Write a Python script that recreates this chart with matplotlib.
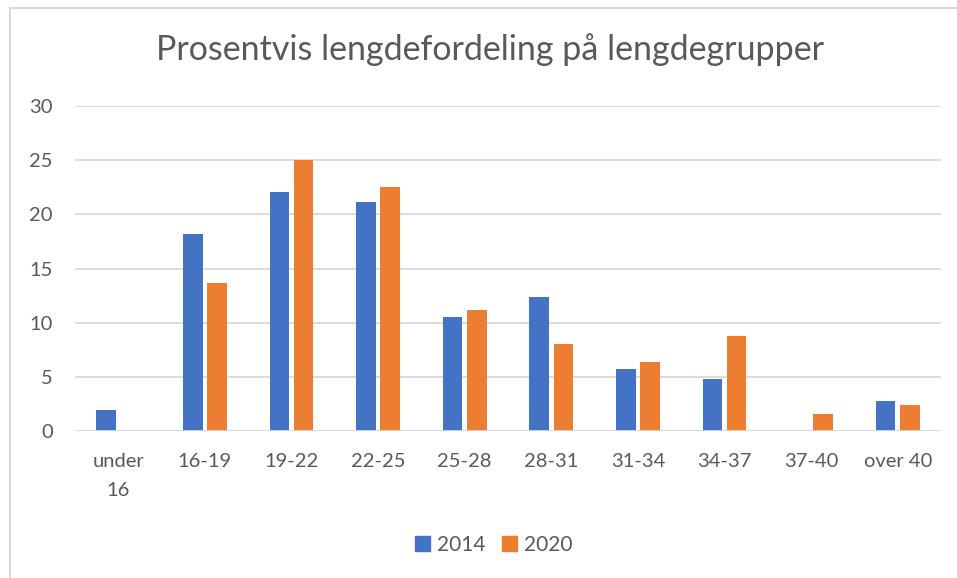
import numpy as np
from matplotlib import pyplot as plt
from matplotlib.lines import Line2D

# Data
categories = ["under\n16", "16-19", "19-22", "22-25", "25-28",
              "28-31", "31-34", "34-37", "37-40", "over 40"]
values_2014 = [1.9, 18.2, 22.1, 21.1, 10.5, 12.4, 5.7, 4.8, 0.0, 2.8]
values_2020 = [0.0, 13.7, 25.0, 22.5, 11.2, 8.0, 6.4, 8.8, 1.6, 2.4]
series_labels = ["2014", "2020"]
yticks = [0, 5, 10, 15, 20, 25, 30]

blue = "#4472C4"
orange = "#ED7D31"
grey_text = "#595959"

plt.rcParams['font.family'] = ['Lato', 'DejaVu Sans']

fig = plt.figure(figsize=(9.57, 5.78), dpi=100)
W, H = 957, 578
ax = fig.add_axes([75 / W, 1 - 431 / H, 866 / W, 325 / H])

x = np.arange(len(categories))
width = 0.225
offset = 0.14
ax.bar(x - offset, values_2014, width, color=blue, label=series_labels[0], zorder=3)
ax.bar(x + offset, values_2020, width, color=orange, label=series_labels[1], zorder=3)

ax.set_xlim(-0.5, len(categories) - 0.5)
ax.set_ylim(0, 30)
ax.set_yticks(yticks)
ax.set_xticks(x)
ax.set_xticklabels(categories, fontsize=14.5, color=grey_text, linespacing=1.85)
ax.tick_params(axis='y', labelsize=14.5, labelcolor=grey_text, length=0, pad=16)
ax.tick_params(axis='x', length=0, pad=16)
ax.yaxis.grid(True, color="#D9D9D9", lw=1.3, zorder=0)
for s in ax.spines.values():
    s.set_visible(False)
ax.axhline(0, color="#D9D9D9", lw=1.3, zorder=4)

fig.text(490 / W, 1 - 50 / H, "Prosentvis lengdefordeling på lengdegrupper",
         ha="center", va="center", fontsize=24.5, color=grey_text)

handles = [plt.Rectangle((0, 0), 1, 1, color=blue),
           plt.Rectangle((0, 0), 1, 1, color=orange)]
fig.legend(handles, series_labels, loc="center", bbox_to_anchor=(494 / W, 1 - 545 / H),
           ncol=2, frameon=False, fontsize=15, labelcolor=grey_text,
           handlelength=0.7, handleheight=0.7, handletextpad=0.35, columnspacing=0.8)

# light frame on top and left, as in the source image
fig.add_artist(Line2D([9.5 / W, 9.5 / W], [0, 1 - 7.5 / H], color="#D9D9D9", lw=1.5))
fig.add_artist(Line2D([9.5 / W, 1], [1 - 7.5 / H, 1 - 7.5 / H], color="#D9D9D9", lw=1.5))

fig.savefig("out.png", dpi=100)
